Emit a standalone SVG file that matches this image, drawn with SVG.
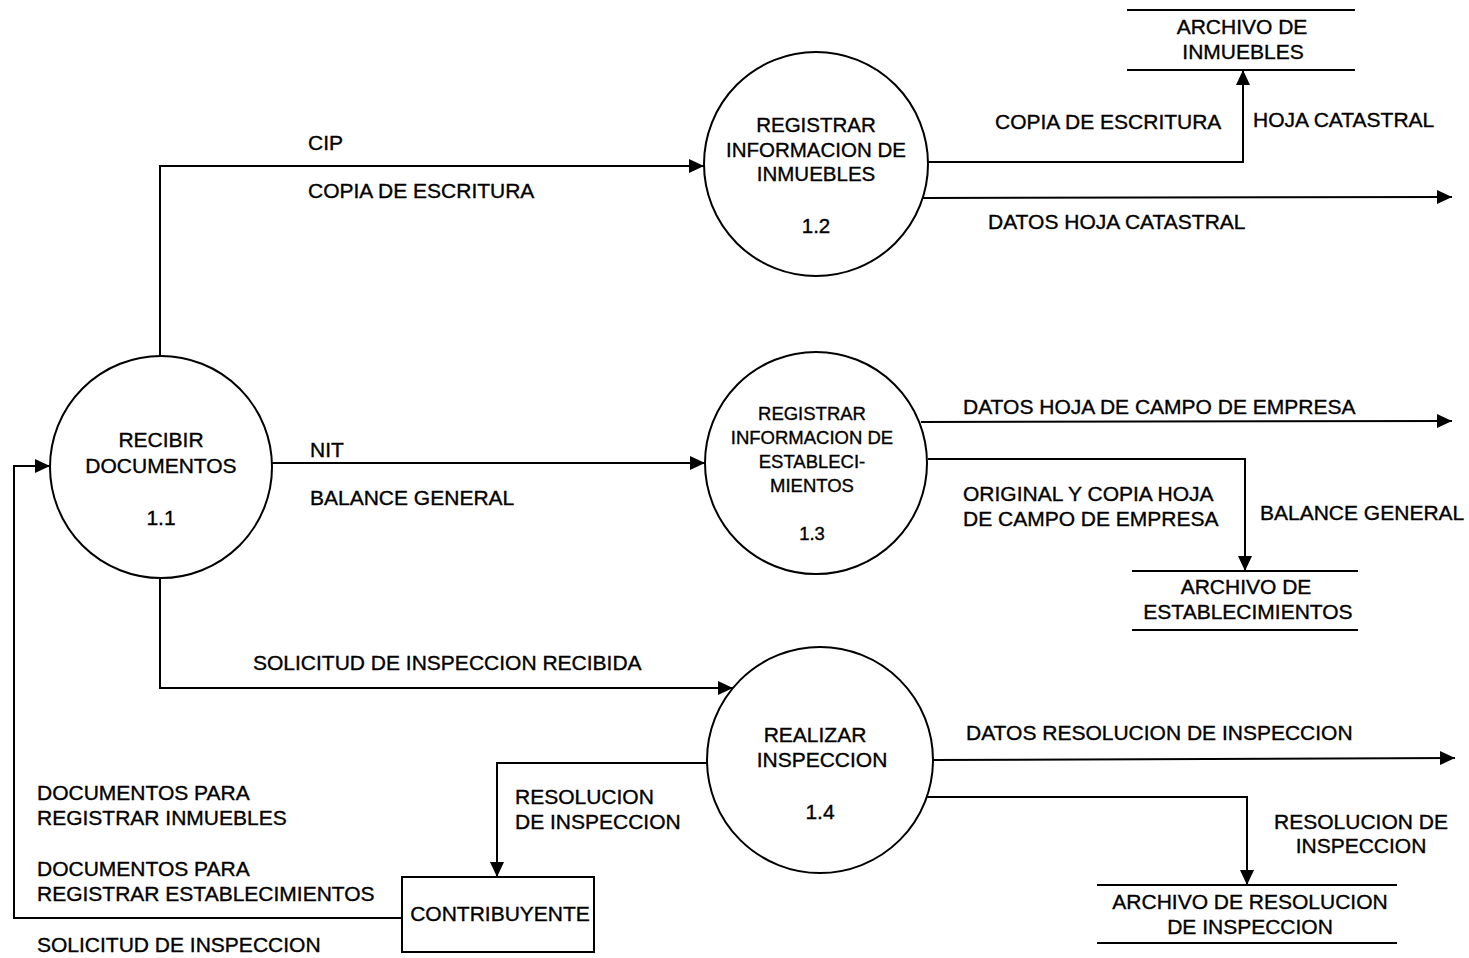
<svg xmlns="http://www.w3.org/2000/svg" width="1469" height="958" viewBox="0 0 1469 958">
<style>
.bg{fill:#fff}
.proc{fill:#fff;stroke:#000;stroke-width:2}
.store{stroke:#000;stroke-width:2}
.ent{fill:#fff;stroke:#000;stroke-width:2}
.flow{fill:none;stroke:#000;stroke-width:2;marker-end:url(#arr)}
text{font-family:"Liberation Sans",Arial,sans-serif;font-size:21px;fill:#000;stroke:#000;stroke-width:0.35}
.c{text-anchor:middle}
.s{font-size:18.5px}
.m{font-size:20.5px}
</style>
<defs>
<marker id="arr" markerUnits="userSpaceOnUse" markerWidth="16" markerHeight="14" refX="15" refY="7" orient="auto">
<path d="M0,0 L15,7 L0,14 z" fill="#000"/>
</marker>
</defs>
<rect class="bg" x="0" y="0" width="1469" height="958"/>

<g id="connectors">
<polyline class="flow" points="160,356 160,166 704,166"/>
<polyline class="flow" points="272,463 705,463"/>
<polyline class="flow" points="160,578 160,688 733,688"/>
<polyline class="flow" points="928,162 1243,162 1243,70"/>
<polyline class="flow" points="923,198 1452,197"/>
<polyline class="flow" points="921,422 1452,421"/>
<polyline class="flow" points="928,459 1245,459 1245,571"/>
<polyline class="flow" points="933,760 1455,758"/>
<polyline class="flow" points="927,797 1247,797 1247,885"/>
<polyline class="flow" points="707,763 497,763 497,877"/>
<polyline class="flow" points="402,918 14,918 14,466 50,466"/>
</g>

<g id="labels">
<text x="308" y="150">CIP</text>
<text x="308" y="198">COPIA DE ESCRITURA</text>
<text x="310" y="457">NIT</text>
<text x="310" y="505">BALANCE GENERAL</text>
<text x="253" y="670">SOLICITUD DE INSPECCION RECIBIDA</text>
<text x="995" y="129">COPIA DE ESCRITURA</text>
<text x="1253" y="127">HOJA CATASTRAL</text>
<text x="988" y="229">DATOS HOJA CATASTRAL</text>
<text x="963" y="414">DATOS HOJA DE CAMPO DE EMPRESA</text>
<text x="963" y="501">ORIGINAL Y COPIA HOJA</text>
<text x="963" y="526">DE CAMPO DE EMPRESA</text>
<text x="1260" y="520">BALANCE GENERAL</text>
<text x="966" y="740">DATOS RESOLUCION DE INSPECCION</text>
<text class="c" x="1361" y="829">RESOLUCION DE</text>
<text class="c" x="1361" y="853">INSPECCION</text>
<text x="515" y="804">RESOLUCION</text>
<text x="515" y="829">DE INSPECCION</text>
<text x="37" y="800">DOCUMENTOS PARA</text>
<text x="37" y="825">REGISTRAR INMUEBLES</text>
<text x="37" y="876">DOCUMENTOS PARA</text>
<text x="37" y="901">REGISTRAR ESTABLECIMIENTOS</text>
<text x="37" y="952">SOLICITUD DE INSPECCION</text>
</g>

<g id="p1_1">
<circle class="proc" cx="161" cy="467" r="111"/>
<text class="c" x="161" y="447">RECIBIR</text>
<text class="c" x="161" y="473">DOCUMENTOS</text>
<text class="c" x="161" y="525">1.1</text>
</g>

<g id="p1_2">
<circle class="proc" cx="816" cy="164" r="112"/>
<text class="c m" x="816" y="132">REGISTRAR</text>
<text class="c m" x="816" y="157">INFORMACION DE</text>
<text class="c m" x="816" y="181">INMUEBLES</text>
<text class="c m" x="816" y="233">1.2</text>
</g>

<g id="p1_3">
<circle class="proc" cx="816" cy="463" r="111"/>
<text class="c s" x="812" y="420">REGISTRAR</text>
<text class="c s" x="812" y="444">INFORMACION DE</text>
<text class="c s" x="812" y="468">ESTABLECI-</text>
<text class="c s" x="812" y="492">MIENTOS</text>
<text class="c s" x="812" y="540">1.3</text>
</g>

<g id="p1_4">
<circle class="proc" cx="820" cy="760" r="113"/>
<text class="c" x="815" y="742">REALIZAR</text>
<text class="c" x="822" y="767">INSPECCION</text>
<text class="c" x="820" y="819">1.4</text>
</g>

<g id="store_inmuebles">
<line class="store" x1="1127" y1="10" x2="1355" y2="10"/>
<line class="store" x1="1127" y1="70" x2="1355" y2="70"/>
<text class="c" x="1242" y="34">ARCHIVO DE</text>
<text class="c" x="1243" y="59">INMUEBLES</text>
</g>

<g id="store_establecimientos">
<line class="store" x1="1132" y1="571" x2="1358" y2="571"/>
<line class="store" x1="1132" y1="630" x2="1358" y2="630"/>
<text class="c" x="1246" y="594">ARCHIVO DE</text>
<text class="c" x="1248" y="619">ESTABLECIMIENTOS</text>
</g>

<g id="store_resolucion">
<line class="store" x1="1097" y1="885" x2="1397" y2="885"/>
<line class="store" x1="1097" y1="943" x2="1397" y2="943"/>
<text class="c" x="1250" y="909">ARCHIVO DE RESOLUCION</text>
<text class="c" x="1250" y="934">DE INSPECCION</text>
</g>

<g id="contribuyente">
<rect class="ent" x="402" y="877" width="192" height="75"/>
<text class="c" x="500" y="921">CONTRIBUYENTE</text>
</g>
</svg>
